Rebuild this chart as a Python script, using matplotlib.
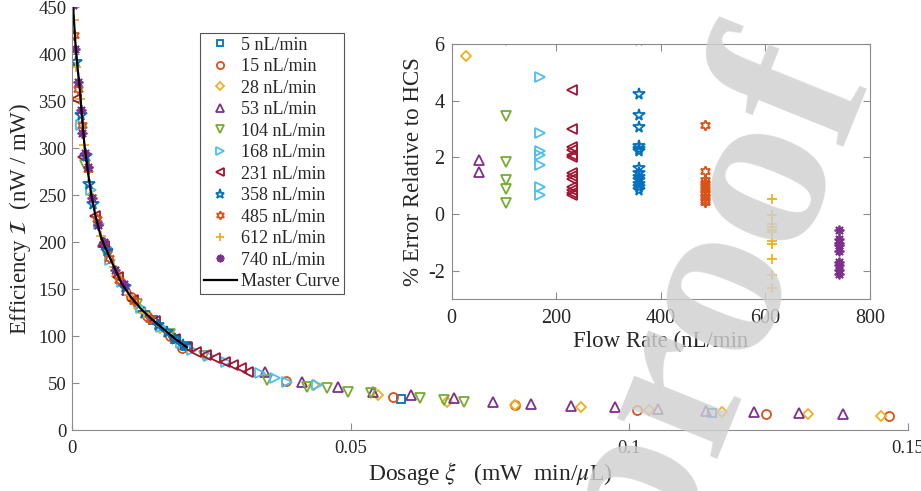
import numpy as np
import matplotlib
matplotlib.use("Agg")
import matplotlib.pyplot as plt

plt.rcParams['font.family'] = ['Liberation Serif', 'DejaVu Serif']
plt.rcParams['mathtext.fontset'] = 'stix'
plt.rcParams['axes.unicode_minus'] = False

# flow rates (nL/min) and legend labels
flow_rates = [5, 15, 28, 53, 104, 168, 231, 358, 485, 612, 740]
labels = [f"{f} nL/min" for f in flow_rates]

colors = ['#0072BD', '#D95319', '#EDB120', '#7E2F8E', '#77AC30', '#4DBEEE',
          '#A2142F', '#0072BD', '#D95319', '#EDB120', '#7E2F8E']
markers = ['s', 'o', 'D', '^', 'v', '>', '<', '*', (6, 1, 0), '+', (8, 2, 0)]
msizes = [5.5, 6.5, 5.5, 7, 7, 7, 7, 8.5, 7.5, 7, 7]

# main plot: dosage xi (mW min/uL) vs efficiency (nW/mW), per flow rate
xi_5 = [0.0145, 0.0185, 0.0205, 0.0591, 0.1149]
eff_5 = [117, 97, 89, 33, 17.7]
xi_15 = [0.0062, 0.0105, 0.0135, 0.0176, 0.0197, 0.0384, 0.0576, 0.0794, 0.1013, 0.1245, 0.1466]
eff_15 = [192, 141, 121, 100, 87, 52, 35.5, 26.6, 21.3, 17.0, 15.2]
xi_28 = [0.0081, 0.0121, 0.0158, 0.0435, 0.0549, 0.0672, 0.0794, 0.0913, 0.1036, 0.1167, 0.1320, 0.1451]
eff_28 = [164, 130, 109, 47.9, 37.2, 30.1, 26.6, 24.1, 21.3, 18.8, 17.0, 15.2]
xi_53 = [0.0056, 0.0098, 0.0346, 0.0412, 0.0477, 0.0540, 0.0609, 0.0686, 0.0755, 0.0824,
         0.0896, 0.0975, 0.1051, 0.1138, 0.1224, 0.1305, 0.1384]
eff_53 = [200, 149, 62, 51.4, 46.1, 40.7, 37.2, 33.7, 30.1, 27.3,
          25.5, 24.1, 22.0, 20.2, 18.8, 18.4, 17.0]
xi_104 = [0.0024, 0.0063, 0.0116, 0.0176, 0.0236, 0.0350, 0.0421, 0.0457, 0.0495, 0.0537,
          0.0624, 0.0668, 0.0704]
eff_104 = [282, 188, 134, 102, 79, 53, 46.1, 44.3, 40.7, 39.0, 33.7, 31.9, 30.1]
xi_168 = [0.0017, 0.0034, 0.0048, 0.0068, 0.0090, 0.0124, 0.0160, 0.0196, 0.0216, 0.0246,
          0.0276, 0.0337, 0.0364, 0.0385, 0.0439]
eff_168 = [325, 255, 219, 181, 157, 130, 110, 93, 85, 79, 72, 60.3, 55, 51.4, 47.9]
xi_231 = [0.0008, 0.0019, 0.0041, 0.0058, 0.0082, 0.0110, 0.0148, 0.0185, 0.0206, 0.0223,
          0.0241, 0.0256, 0.0274, 0.0289, 0.0304, 0.0316]
eff_231 = [352, 290, 228, 196, 163, 138, 116, 97, 88.6, 83.3, 79.8, 76.3, 72.7, 69.1, 65.6, 62]
xi_358 = [0.0007, 0.0016, 0.0025, 0.0031, 0.0038, 0.0062, 0.0095, 0.0130, 0.0155, 0.0170,
          0.0185, 0.0200]
eff_358 = [392, 335, 292, 262, 240, 190, 152, 125, 112, 104, 97, 90]
xi_485 = [0.0004, 0.0011, 0.0018, 0.0028, 0.0044, 0.0066, 0.0085, 0.0112, 0.0140]
eff_485 = [420, 363, 325, 278, 224, 183, 160, 137, 118]
xi_612 = [0.0004, 0.0008, 0.0014, 0.0022, 0.0035, 0.0052, 0.0075, 0.0102, 0.0130]
eff_612 = [436, 386, 352, 303, 250, 206, 173, 144, 124]
xi_740 = [0.00024, 0.0006, 0.0011, 0.0016, 0.0018, 0.0024, 0.0028, 0.0036, 0.0047, 0.0057,
          0.0078, 0.0093]
eff_740 = [452, 405, 370, 340, 316, 295, 280, 247, 218, 200, 170, 155]

xi_all = [xi_5, xi_15, xi_28, xi_53, xi_104, xi_168, xi_231, xi_358, xi_485, xi_612, xi_740]
eff_all = [eff_5, eff_15, eff_28, eff_53, eff_104, eff_168, eff_231, eff_358, eff_485, eff_612, eff_740]

# master curve
master_xi = [0.0002, 0.0006, 0.0010, 0.0013, 0.0017, 0.0022, 0.0028, 0.0034, 0.0042, 0.0052,
             0.0059, 0.0075, 0.0089, 0.0105, 0.0125, 0.0145, 0.0167, 0.0185, 0.0206]
master_eff = [450, 412, 385, 369, 340, 305, 277, 252, 228, 205,
              195, 174, 156, 142, 128, 117, 106, 97, 88]

# inset: % error relative to HCS per flow rate
err_28 = [5.59]
err_53 = [1.92, 1.48]
err_104 = [6.15, 3.45, 1.84, 1.22, 0.89, 0.40]
err_168 = [4.85, 2.88, 2.24, 2.08, 1.75, 0.96, 0.66]
err_231 = [4.38, 3.0, 2.36, 2.25, 2.1, 2.0, 1.45, 1.36, 1.25, 0.95, 0.85, 0.75, 0.69]
err_358 = [6.15, 4.22, 3.5, 3.07, 2.39, 2.3, 2.22, 1.63, 1.45, 1.3, 1.2, 1.05, 0.95, 0.85]
err_485 = [3.15, 1.51, 1.2, 1.1, 1.0, 0.9, 0.8, 0.7, 0.6, 0.5, 0.42]
err_612 = [0.55, -0.04, -0.36, -0.45, -0.55, -0.62, -0.96, -1.05, -1.57, -2.14, -2.61]
err_740 = [-0.54, -0.88, -1.0, -1.1, -1.3, -1.7, -1.8, -1.95, -2.1]
err_all = [None, None, err_28, err_53, err_104, err_168, err_231, err_358, err_485, err_612, err_740]

text_c = '#262626'
axis_c = '#8c8c8c'

fig = plt.figure(figsize=(9.21, 4.91), dpi=100)
ax = fig.add_axes([0.0782, 0.1242, 0.9077, 0.8615])

for i in range(len(flow_rates)):
    ax.plot(xi_all[i], eff_all[i], linestyle='none', marker=markers[i], ms=msizes[i],
            mfc='none', mec=colors[i], mew=1.3, label=labels[i])
ax.plot(master_xi, master_eff, color='k', lw=1.6, label='Master Curve')

ax.set_xlim(0, 0.15)
ax.set_ylim(0, 450)
ax.set_xticks([0, 0.05, 0.1, 0.15])
ax.set_xticklabels(['0', '0.05', '0.1', '0.15'])
ax.set_yticks(np.arange(0, 451, 50))
for s in ['top', 'right']:
    ax.spines[s].set_visible(False)
for s in ['left', 'bottom']:
    ax.spines[s].set_color(axis_c)
    ax.spines[s].set_linewidth(0.8)
ax.tick_params(direction='in', length=5, width=0.8, color=axis_c, labelcolor=text_c,
               labelsize=13.5)
ax.tick_params(axis='x', pad=7)
ax.tick_params(axis='y', pad=4)
ax.set_xlabel(r'Dosage $\xi$   (mW  min/$\mu$L)', fontsize=17, color=text_c, labelpad=2)
ax.set_ylabel(r'Efficiency $\mathcal{I}$  (nW / mW)', fontsize=16.5, color=text_c, labelpad=4)

leg = ax.legend(loc='upper left', bbox_to_anchor=(0.153, 0.9385), borderaxespad=0,
                fontsize=13, frameon=True, fancybox=False, framealpha=1,
                handlelength=1.85, handletextpad=0.25, labelspacing=0.25, borderpad=0.2,
                markerscale=0.8)
leg.get_frame().set_edgecolor('#555555')
leg.get_frame().set_linewidth(0.8)
for t in leg.get_texts():
    t.set_color(text_c)

# inset
ins = fig.add_axes([0.4904, 0.3904, 0.4542, 0.52])
for i in range(len(flow_rates)):
    if err_all[i] is None:
        continue
    ins.plot([flow_rates[i]] * len(err_all[i]), err_all[i], linestyle='none',
             marker=markers[i], ms=msizes[i], mfc='none', mec=colors[i], mew=1.3)
ins.set_xlim(0, 800)
ins.set_ylim(-3, 6)
ins.set_xticks([0, 200, 400, 600, 800])
ins.set_yticks([-2, 0, 2, 4, 6])
for s in ins.spines.values():
    s.set_color(axis_c)
    s.set_linewidth(0.8)
ins.tick_params(direction='in', length=5, width=0.8, color=axis_c, labelcolor=text_c,
                labelsize=14.5, top=True, right=True)
ins.tick_params(axis='x', pad=7)
ins.tick_params(axis='y', pad=5)
ins.set_xlabel('Flow Rate (nL/min', fontsize=16.5, color=text_c, labelpad=2)
ins.set_ylabel('% Error Relative to HCS', fontsize=16.5, color=text_c, labelpad=3)

# watermark of the pre-proof page
fig.text(0.722, -0.187, 'proof', fontsize=170, color='#d0d0d0', alpha=0.82,
         rotation=68, rotation_mode='anchor', ha='left', va='baseline',
         family='Liberation Serif', weight='bold', zorder=10)

fig.savefig('out.png', dpi=100)
